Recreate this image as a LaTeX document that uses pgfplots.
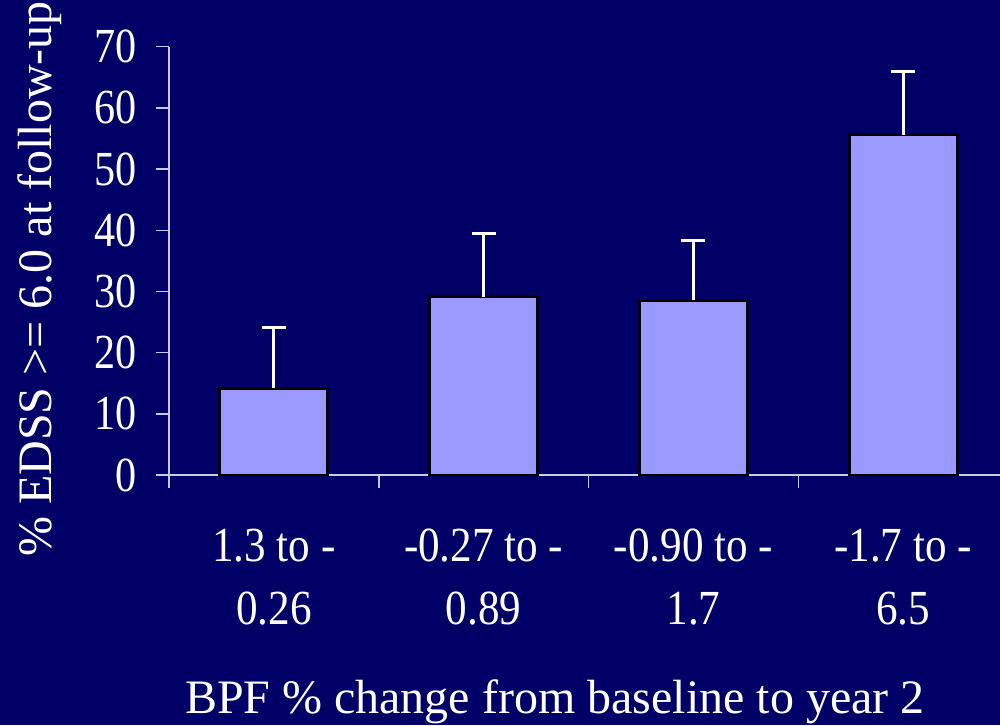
\documentclass[border=0pt]{standalone}
\usepackage{fontspec}
\setmainfont{Liberation Serif}
\newfontfamily\condfont[FakeStretch=0.88]{Liberation Serif}
\newfontfamily\ycondfont[FakeStretch=0.86]{Liberation Serif}
\usepackage{pgfplots}
\usepackage{pgfplotstable}
\pgfplotsset{compat=1.18}
\definecolor{bg}{HTML}{000066}
\definecolor{barfill}{HTML}{9999FF}
\definecolor{axcol}{HTML}{C8C8E8}
\pgfplotstableread{
x y err
0 14.2 9.9
1 29.1 10.4
2 28.6 9.8
3 55.6 10.4
}\datatable
\begin{document}
\begin{tikzpicture}[x=1pt,y=1pt]
\fill[bg] (0,0) rectangle (1000,725);
\useasboundingbox (0,0) rectangle (1000,725);
\begin{axis}[
  at={(169pt,250pt)}, anchor=south west,
  scale only axis, width=839pt, height=428.3pt,
  xmin=-0.5, xmax=3.5, ymin=0, ymax=70,
  axis x line*=bottom, axis y line*=left,
  axis line style={axcol, line width=1.5pt},
  every tick/.style={axcol, line width=1.5pt},
  tick align=outside, major tick length=13pt,
  ytick={0,10,...,70},
  xtick={-0.5,0.5,1.5,2.5,3.5},
  xticklabels={{1.3 to -\\0.26},{-0.27 to -\\0.89},{-0.90 to -\\1.7},{-1.7 to -\\6.5},{}},
  xticklabel style={font=\condfont\fontsize{49}{63}\selectfont, text=white, align=center, anchor=north, inner sep=0pt, xshift=104.9pt, yshift=-41pt},
  yticklabel style={font=\ycondfont\fontsize{49}{56}\selectfont, text=white, anchor=east, inner sep=0pt, xshift=-19pt},
  /pgf/number format/assume math mode=true,
  xlabel={BPF \% change from baseline to year 2},
  xlabel style={font=\fontsize{48}{58}\selectfont, text=white, at={(axis description cs:0.46,-0.5557)}, anchor=base, inner sep=0pt},
  ylabel={\% EDSS >= 6.0 at follow-up},
  ylabel style={font=\fontsize{48}{58}\selectfont, text=white, at={(axis description cs:-0.1275,0.4576)}, anchor=south, inner sep=0pt},
]
\addplot[ybar, bar width=108pt, fill=barfill, draw=black, line width=3pt,
  error bars/.cd, y dir=plus, y explicit,
  error bar style={white, line width=3pt},
  error mark options={rotate=90, white, line width=3pt, mark size=12pt}]
  table[x=x, y=y, y error=err] {\datatable};
\end{axis}
\end{tikzpicture}
\end{document}
